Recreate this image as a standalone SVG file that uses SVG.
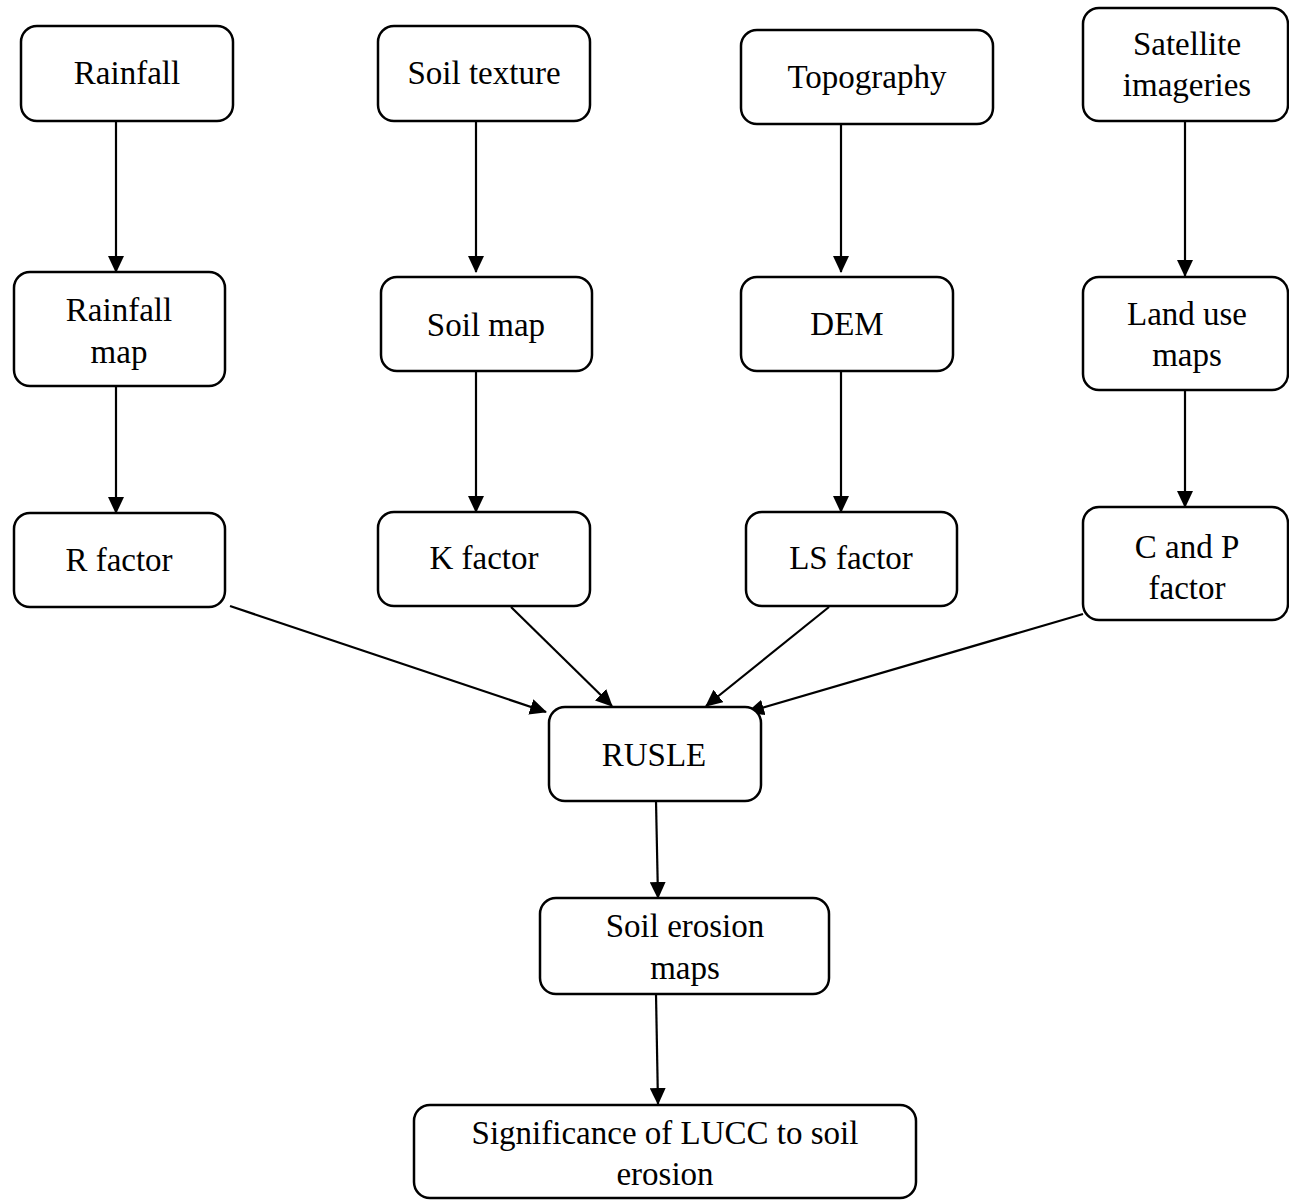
<svg xmlns="http://www.w3.org/2000/svg" width="1289" height="1200" viewBox="0 0 1289 1200">
<style>
.box{fill:#fff;stroke:#000;stroke-width:2.5}
.t{font-family:"Liberation Serif","Times New Roman",serif;font-size:33px;fill:#000;text-anchor:middle}
.c{stroke:#000;stroke-width:2.2;fill:none}
</style>
<defs>
<marker id="ah" markerWidth="17" markerHeight="16" refX="16" refY="8" orient="auto" markerUnits="userSpaceOnUse">
<path d="M0,0 L17,8 L0,16 Z" fill="#000"/>
</marker>
</defs>
<rect width="1289" height="1200" fill="#fff"/>
<g id="connectors">
<line class="c" x1="116" y1="121" x2="116" y2="272" marker-end="url(#ah)"/>
<line class="c" x1="476" y1="121" x2="476" y2="272" marker-end="url(#ah)"/>
<line class="c" x1="841" y1="124" x2="841" y2="272" marker-end="url(#ah)"/>
<line class="c" x1="1185" y1="121" x2="1185" y2="276" marker-end="url(#ah)"/>
<line class="c" x1="116" y1="386" x2="116" y2="513" marker-end="url(#ah)"/>
<line class="c" x1="476" y1="371" x2="476" y2="512" marker-end="url(#ah)"/>
<line class="c" x1="841" y1="371" x2="841" y2="512" marker-end="url(#ah)"/>
<line class="c" x1="1185" y1="390" x2="1185" y2="507" marker-end="url(#ah)"/>
<line class="c" x1="230" y1="606" x2="546" y2="712" marker-end="url(#ah)"/>
<line class="c" x1="511" y1="607" x2="612" y2="706" marker-end="url(#ah)"/>
<line class="c" x1="829" y1="607" x2="706" y2="706" marker-end="url(#ah)"/>
<line class="c" x1="1083" y1="614" x2="748" y2="712" marker-end="url(#ah)"/>
<line class="c" x1="656" y1="801" x2="658" y2="898" marker-end="url(#ah)"/>
<line class="c" x1="656" y1="994" x2="658" y2="1104" marker-end="url(#ah)"/>
</g>
<g id="n-rainfall"><rect class="box" x="21" y="26" width="212" height="95" rx="16"/><text class="t" x="127" y="84">Rainfall</text></g>
<g id="n-soiltexture"><rect class="box" x="378" y="26" width="212" height="95" rx="16"/><text class="t" x="484" y="84">Soil texture</text></g>
<g id="n-topography"><rect class="box" x="741" y="30" width="252" height="94" rx="16"/><text class="t" x="867" y="88">Topography</text></g>
<g id="n-satellite"><rect class="box" x="1083" y="8" width="205" height="113" rx="16"/><text class="t" x="1187" y="55">Satellite</text><text class="t" x="1187" y="96">imageries</text></g>
<g id="n-rainfallmap"><rect class="box" x="14" y="272" width="211" height="114" rx="16"/><text class="t" x="119" y="321">Rainfall</text><text class="t" x="119" y="363">map</text></g>
<g id="n-soilmap"><rect class="box" x="381" y="277" width="211" height="94" rx="16"/><text class="t" x="486" y="336">Soil map</text></g>
<g id="n-dem"><rect class="box" x="741" y="277" width="212" height="94" rx="16"/><text class="t" x="847" y="335">DEM</text></g>
<g id="n-landuse"><rect class="box" x="1083" y="277" width="205" height="113" rx="16"/><text class="t" x="1187" y="325">Land use</text><text class="t" x="1187" y="366">maps</text></g>
<g id="n-rfactor"><rect class="box" x="14" y="513" width="211" height="94" rx="16"/><text class="t" x="119" y="571">R factor</text></g>
<g id="n-kfactor"><rect class="box" x="378" y="512" width="212" height="94" rx="16"/><text class="t" x="484" y="569">K factor</text></g>
<g id="n-lsfactor"><rect class="box" x="746" y="512" width="211" height="94" rx="16"/><text class="t" x="851" y="569">LS factor</text></g>
<g id="n-cpfactor"><rect class="box" x="1083" y="507" width="205" height="113" rx="16"/><text class="t" x="1187" y="558">C and P</text><text class="t" x="1187" y="599">factor</text></g>
<g id="n-rusle"><rect class="box" x="549" y="707" width="212" height="94" rx="16"/><text class="t" x="654" y="766">RUSLE</text></g>
<g id="n-erosionmaps"><rect class="box" x="540" y="898" width="289" height="96" rx="16"/><text class="t" x="685" y="937">Soil erosion</text><text class="t" x="685" y="979">maps</text></g>
<g id="n-significance"><rect class="box" x="414" y="1105" width="502" height="93" rx="16"/><text class="t" x="665" y="1144">Significance of LUCC to soil</text><text class="t" x="665" y="1185">erosion</text></g>
</svg>
